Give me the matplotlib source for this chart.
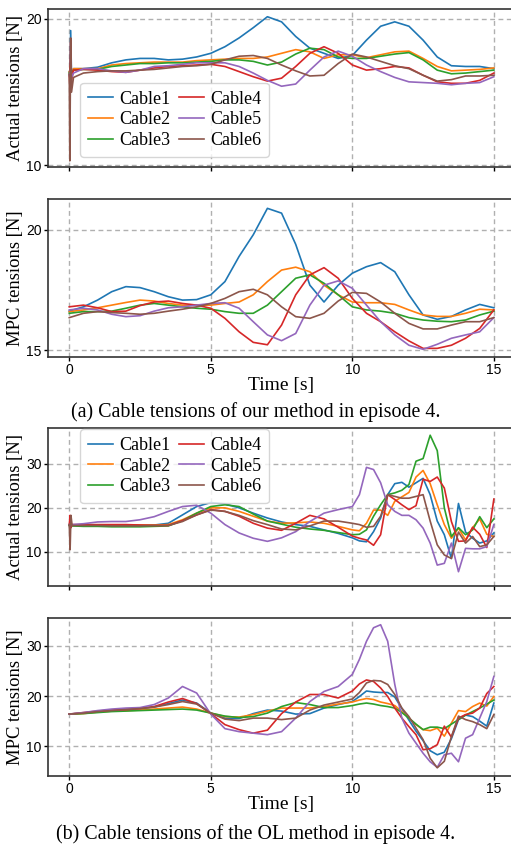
import numpy as np
import matplotlib.pyplot as plt
from matplotlib.ticker import MultipleLocator

# time grids
t_start = [0.0, 0.02, 0.05, 0.08, 0.15]
t1 = np.array(t_start + list(np.arange(0.5, 15.01, 0.5)))
t2 = np.arange(0, 15.01, 0.5)
t3 = np.array([0.0, 0.03, 0.06, 0.1] + list(np.arange(0.5, 9.51, 0.5)) + list(np.arange(10, 15.01, 0.25)))
t4 = np.array(list(np.arange(0, 9.51, 0.5)) + list(np.arange(10, 15.01, 0.25)))

labels = ['Cable1', 'Cable2', 'Cable3', 'Cable4', 'Cable5', 'Cable6']

# (a) our method - actual tensions
a_c1 = [16.4, 16.0, 19.2, 16.0, 16.6, 16.6, 16.7, 17.0, 17.2, 17.3, 17.3, 17.2, 17.25, 17.4, 17.65, 18.1, 18.7, 19.4,
        20.15, 19.8, 18.8, 18.0, 17.65, 17.3, 17.5, 18.55, 19.5, 19.8, 19.5, 18.55, 17.4, 16.8, 16.75, 16.75, 16.6]
a_c2 = [16.4, 16.2, 16.9, 16.2, 16.6, 16.6, 16.6, 16.85, 16.95, 17.0, 17.05, 17.05, 17.05, 17.15, 17.2, 17.25, 17.3,
        17.3, 17.4, 17.65, 17.9, 17.75, 17.3, 17.55, 17.55, 17.35, 17.55, 17.75, 17.8, 17.3, 16.75, 16.45, 16.5, 16.55, 16.65]
a_c3 = [16.3, 16.2, 16.7, 16.3, 16.5, 16.55, 16.55, 16.75, 16.85, 16.95, 16.95, 17.0, 17.0, 17.05, 17.1, 17.2, 17.2,
        17.1, 16.85, 17.05, 17.6, 18.0, 17.9, 17.4, 17.3, 17.3, 17.45, 17.6, 17.7, 17.2, 16.5, 16.25, 16.3, 16.4, 16.5]
a_c4 = [16.2, 15.5, 18.4, 15.8, 16.5, 16.55, 16.5, 16.4, 16.35, 16.5, 16.65, 16.75, 16.8, 16.85, 16.9, 16.75, 16.4,
        16.05, 15.75, 15.95, 16.75, 17.65, 18.1, 17.65, 16.85, 16.5, 16.6, 16.75, 16.65, 16.15, 15.7, 15.6, 15.6, 15.8, 16.3]
a_c5 = [16.2, 16.0, 16.6, 16.0, 16.3, 16.6, 16.6, 16.45, 16.35, 16.5, 16.75, 16.8, 16.9, 17.0, 17.0, 17.0, 16.75,
        16.3, 15.8, 15.4, 15.55, 16.5, 17.4, 17.8, 17.45, 16.85, 16.4, 16.0, 15.7, 15.65, 15.6, 15.5, 15.6, 15.65, 16.05]
a_c6 = [16.2, 10.3, 18.7, 15.0, 16.0, 16.3, 16.4, 16.45, 16.45, 16.5, 16.55, 16.65, 16.75, 16.8, 16.9, 17.2, 17.45,
        17.5, 17.3, 16.85, 16.45, 16.1, 16.15, 16.95, 17.6, 17.4, 17.1, 16.8, 16.6, 16.15, 15.75, 15.85, 16.1, 16.1, 16.15]

# (a) our method - MPC tensions
b_c1 = [16.62, 16.8, 17.08, 17.43, 17.64, 17.6, 17.43, 17.22, 17.08, 17.1, 17.3, 17.85, 18.9, 19.8, 20.9, 20.7,
        19.4, 17.7, 17.0, 17.7, 18.2, 18.47, 18.64, 18.26, 17.3, 16.46, 16.28, 16.4, 16.67, 16.9, 16.76]
b_c2 = [16.6, 16.67, 16.76, 16.87, 16.98, 17.08, 17.04, 16.94, 16.87, 16.87, 16.87, 16.94, 17.0, 17.3, 17.85, 18.33,
        18.45, 18.26, 17.7, 17.3, 17.0, 16.97, 16.97, 16.9, 16.67, 16.46, 16.4, 16.4, 16.53, 16.7, 16.67]
b_c3 = [16.53, 16.6, 16.6, 16.62, 16.74, 16.87, 16.94, 16.87, 16.8, 16.74, 16.7, 16.6, 16.53, 16.53, 16.87, 17.43,
        17.99, 18.13, 17.78, 17.3, 16.8, 16.67, 16.62, 16.53, 16.35, 16.25, 16.2, 16.18, 16.25, 16.46, 16.62]
b_c4 = [16.8, 16.87, 16.76, 16.6, 16.62, 16.85, 17.0, 17.04, 16.94, 16.87, 16.74, 16.32, 15.76, 15.32, 15.22, 16.04,
        17.3, 18.13, 18.43, 17.99, 17.15, 16.53, 16.18, 15.76, 15.38, 15.07, 15.07, 15.2, 15.49, 15.9, 16.67]
b_c5 = [16.67, 16.74, 16.67, 16.49, 16.39, 16.43, 16.62, 16.76, 16.8, 16.87, 16.94, 16.97, 16.74, 16.18, 15.63, 15.39,
        15.69, 16.87, 17.7, 17.88, 17.57, 16.87, 16.18, 15.63, 15.2, 15.03, 15.24, 15.49, 15.63, 15.76, 16.35]
b_c6 = [16.35, 16.53, 16.6, 16.56, 16.53, 16.49, 16.53, 16.62, 16.7, 16.8, 16.94, 17.15, 17.43, 17.53, 17.3, 16.8,
        16.39, 16.32, 16.53, 17.04, 17.4, 17.36, 17.0, 16.53, 16.11, 15.88, 15.88, 16.04, 16.18, 16.18, 16.35]

# (b) OL method - actual tensions
c_c1 = [16.0, 16.5, 15.8, 16.0,
        16.0, 16.0, 16.0, 16.0, 16.0, 16.1, 16.5, 18.4, 20.3, 21.2, 20.9, 20.0, 18.8, 17.7, 16.8, 16.2, 15.8, 15.0, 14.2,
        13.2, 12.5, 12.3, 14.6, 17.7, 23.0, 25.5, 25.8, 24.7, 25.7, 26.7, 23.0, 17.0, 13.9, 8.5, 21.0, 14.5, 13.1,
        12.0, 12.5, 14.3]
c_c2 = [16.2, 16.0, 16.3, 16.1,
        16.1, 16.1, 16.1, 16.1, 16.1, 16.1, 16.2, 17.3, 18.8, 20.0, 20.0, 19.2, 18.1, 17.0, 16.5, 16.6, 16.8, 16.5, 15.8,
        15.0, 14.8, 16.5, 19.5, 19.5, 18.3, 21.5, 22.5, 23.5, 27.0, 28.5, 25.5, 20.7, 16.2, 13.1, 15.4, 12.7, 15.5,
        17.5, 14.0, 13.5]
c_c3 = [16.0, 15.6, 16.2, 15.9,
        15.8, 15.8, 15.7, 15.7, 15.7, 15.8, 15.9, 17.1, 18.8, 20.3, 20.7, 20.3, 18.6, 17.0, 16.3, 15.6, 15.2, 14.9, 14.4,
        13.9, 14.0, 15.0, 18.1, 20.7, 23.0, 23.4, 24.0, 25.3, 30.6, 31.2, 36.5, 33.0, 20.0, 13.5, 15.5, 13.9, 15.0,
        18.0, 15.5, 17.5]
c_c4 = [16.2, 18.3, 15.5, 16.2,
        16.2, 16.2, 16.2, 16.2, 16.1, 16.0, 16.0, 17.1, 18.4, 19.6, 19.2, 18.1, 16.5, 15.4, 14.9, 16.5, 18.3, 17.5, 15.6,
        13.6, 13.1, 12.7, 11.5, 13.9, 23.0, 21.9, 20.7, 19.6, 20.5, 26.5, 26.0, 27.0, 24.5, 16.9, 12.4, 12.5, 15.6,
        14.0, 11.0, 22.0]
c_c5 = [16.2, 16.0, 16.4, 16.2,
        16.4, 16.8, 16.9, 16.9, 17.3, 18.0, 19.2, 20.3, 20.6, 18.8, 16.2, 14.3, 13.1, 12.4, 13.2, 14.6, 16.9, 18.8, 19.6,
        20.3, 23.0, 29.2, 28.7, 25.7, 20.7, 19.2, 18.3, 18.3, 17.3, 15.4, 12.0, 7.0, 7.4, 12.0, 5.5, 10.8, 10.7,
        10.7, 11.2, 16.2]
c_c6 = [16.2, 10.5, 18.3, 16.0,
        16.0, 16.0, 15.9, 15.9, 15.9, 16.0, 16.0, 16.9, 18.4, 19.5, 19.2, 18.3, 17.1, 16.2, 15.2, 15.0, 15.9, 17.0, 17.0,
        16.5, 16.2, 15.6, 15.8, 18.1, 23.0, 22.6, 22.2, 22.2, 22.6, 23.0, 17.0, 11.6, 9.3, 8.5, 14.5, 12.0, 13.5,
        11.2, 11.6, 13.5]

# (b) OL method - MPC tensions
d_c1 = [16.4, 16.6, 16.9, 17.1, 17.3, 17.5, 17.8, 18.5, 19.2, 18.6, 16.6, 15.6, 15.5, 16.5, 17.2, 17.0, 16.4, 16.5,
        17.6, 18.3,
        18.9, 19.9, 21.0, 20.8, 20.7, 20.7, 19.8, 17.5, 15.2, 13.0, 11.1, 9.1, 8.3, 8.8, 11.5, 15.3, 16.2, 15.9, 15.0,
        14.0, 18.6]
d_c2 = [16.4, 16.5, 16.8, 17.0, 17.1, 17.2, 17.4, 17.6, 17.8, 17.4, 16.6, 15.9, 15.8, 16.3, 17.0, 17.6, 17.6, 17.6,
        17.9, 18.4,
        18.8, 19.2, 19.5, 19.3, 18.8, 18.5, 18.1, 16.9, 15.6, 14.3, 13.3, 13.1, 13.6, 12.0, 14.6, 17.1, 16.9, 17.9, 18.6,
        18.0, 19.9]
d_c3 = [16.4, 16.5, 16.7, 16.9, 17.0, 17.1, 17.2, 17.3, 17.4, 17.2, 16.6, 16.0, 15.7, 15.9, 16.6, 17.9, 18.7, 18.3,
        17.7, 17.7,
        18.1, 18.4, 18.6, 18.4, 18.1, 17.9, 17.6, 16.7, 15.6, 14.4, 13.3, 13.8, 13.8, 13.5, 14.4, 15.3, 16.2, 16.9, 17.6,
        18.4, 19.2]
d_c4 = [16.4, 16.7, 17.0, 17.2, 17.3, 17.5, 17.9, 18.8, 19.5, 18.5, 16.5, 14.3, 13.3, 12.6, 13.2, 16.5, 18.8, 20.3,
        20.3, 19.6,
        21.0, 22.4, 23.2, 22.9, 21.6, 19.9, 17.6, 15.6, 13.9, 12.3, 9.3, 9.5, 10.3, 14.0, 11.8, 15.6, 16.3, 16.6, 17.6,
        20.5, 21.9]
d_c5 = [16.4, 16.7, 17.1, 17.4, 17.6, 17.7, 18.3, 19.6, 21.9, 20.6, 16.4, 13.5, 12.9, 12.6, 12.3, 12.9, 15.6, 18.9,
        20.9, 21.9,
        24.3, 27.3, 30.9, 33.6, 34.2, 30.9, 22.3, 15.6, 12.6, 10.6, 8.6, 6.9, 5.8, 8.3, 8.6, 6.9, 11.6, 12.3, 15.6,
        18.9, 23.9]
d_c6 = [16.4, 16.6, 16.9, 17.1, 17.3, 17.5, 17.8, 18.3, 18.9, 18.4, 16.6, 15.4, 15.1, 15.6, 15.6, 15.3, 15.6, 17.2,
        18.2, 18.8,
        19.4, 20.7, 22.6, 23.1, 23.0, 22.3, 20.3, 17.6, 15.9, 13.6, 11.3, 7.6, 5.7, 7.0, 11.9, 16.0, 15.3, 14.9, 14.3,
        13.5, 16.3]

serif = ['Liberation Serif', 'DejaVu Serif']
sans = ['Liberation Sans', 'DejaVu Sans']

fig = plt.figure(figsize=(5.11, 8.46), dpi=100)


def panel(bottom, t, series, ylim, step, ylabel, xlabel, legend=None):
    ax = fig.add_axes([0.094, bottom, 0.914, 0.1868])
    for i, y in enumerate(series):
        ax.plot(t, y, color='C%d' % i, lw=1.2, label=labels[i])
    ax.set_xlim(-0.75, 15.75)
    ax.set_ylim(*ylim)
    ax.xaxis.set_major_locator(MultipleLocator(5))
    ax.yaxis.set_major_locator(MultipleLocator(step))
    ax.grid(True, color='#b0b0b0', linestyle=(0, (3.5, 2.5)), lw=1.0)
    for s in ax.spines.values():
        s.set_color('#333333')
        s.set_linewidth(1.2)
    ax.tick_params(labelsize=10, width=1.0, length=3, pad=1.5)
    for lab in ax.get_xticklabels() + ax.get_yticklabels():
        lab.set_family(sans)
    ax.set_ylabel(ylabel, fontsize=13.4, family=serif)
    ax.yaxis.set_label_coords(-0.052, 0.5)
    if xlabel:
        ax.set_xlabel('Time [s]', fontsize=14, family=serif, labelpad=0)
    else:
        ax.tick_params(labelbottom=False)
    if legend is not None:
        ax.legend(ncol=2, loc=legend[0], bbox_to_anchor=legend[1], borderaxespad=0,
                  prop={'family': serif, 'size': 13}, handlelength=1.4, handletextpad=0.3,
                  columnspacing=0.5, labelspacing=0.2, borderpad=0.45, framealpha=0.8)
    return ax


panel(0.8026, t1, [a_c1, a_c2, a_c3, a_c4, a_c5, a_c6], (9.88, 20.68), 10, 'Actual tensions [N]', False,
      legend=('lower left', (0.0685, 0.063)))
panel(0.578, t2, [b_c1, b_c2, b_c3, b_c4, b_c5, b_c6], (14.71, 21.29), 5, 'MPC tensions [N]', True)
panel(0.3073, t3, [c_c1, c_c2, c_c3, c_c4, c_c5, c_c6], (2.25, 38.14), 10, 'Actual tensions [N]', False,
      legend=('upper left', (0.0685, 0.994)))
panel(0.0827, t4, [d_c1, d_c2, d_c3, d_c4, d_c5, d_c6], (4.06, 35.54), 10, 'MPC tensions [N]', True)

fig.text(0.5, 1 - 412 / 846, '(a) Cable tensions of our method in episode 4.', ha='center', va='center',
         fontsize=14.4, family=serif)
fig.text(0.5, 1 - 834 / 846, '(b) Cable tensions of the OL method in episode 4.', ha='center', va='center',
         fontsize=14.4, family=serif)

fig.savefig('out.png', dpi=100)
